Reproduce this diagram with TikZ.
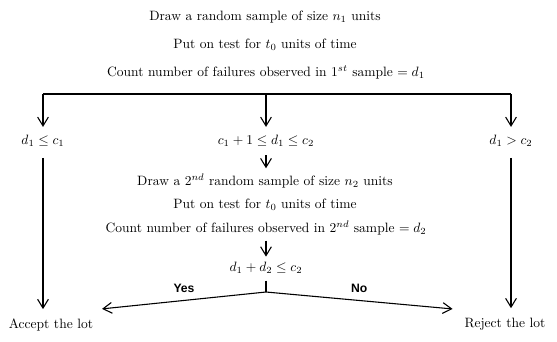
\documentclass[tikz,border=0pt]{standalone}
\usepackage{amsmath,amssymb}
\usepackage{fontspec}
\newfontfamily\lblfont{Liberation Sans}
\usepackage{tikz}
\usetikzlibrary{arrows.meta,positioning,calc}
\tikzset{
  txt/.style={inner sep=2pt, font=\normalsize},
  flow/.style={-{Straight Barb[length=2.3mm,width=2.8mm]}, line width=0.8pt},
  link/.style={line width=0.8pt},
  lbl/.style={font=\lblfont\bfseries\small},
}

\begin{document}
\begin{tikzpicture}[x=0.026cm,y=-0.026cm]
\useasboundingbox (0,0) rectangle (557,341);
% first sample
\node[txt] (draw1) at (265,17) {Draw a random sample of size $n_1$ units};
\node[txt] (test1) at (265,45) {Put on test for $t_0$ units of time};
\node[txt] (count1) at (266,72) {Count number of failures observed in $1^{st}$ sample $= d_1$};
% decisions on d1
\coordinate (bar) at (266,94);
\node[txt] (lowc) at (43,141) {$d_1 \le c_1$};
\node[txt] (midc) at (266,141) {$c_1 + 1 \le d_1 \le c_2$};
\node[txt] (highc) at (511,141) {$d_1 > c_2$};
% second sample
\node[txt] (draw2) at (265,181) {Draw a $2^{nd}$ random sample of size $n_2$ units};
\node[txt] (test2) at (265,205) {Put on test for $t_0$ units of time};
\node[txt] (count2) at (266,228) {Count number of failures observed in $2^{nd}$ sample $= d_2$};
\node[txt] (sumc) at (266,268) {$d_1 + d_2 \le c_2$};
\coordinate (fork) at (266,292);
% outcomes
\node[txt] (accept) at (51,325) {Accept the lot};
\node[txt] (reject) at (505,324) {Reject the lot};
% connectors
\draw[link] (lowc.north |- bar) -- (highc.north |- bar);
\draw[flow, shorten >=4pt] (lowc.north |- bar) -- (lowc);
\draw[flow, shorten >=4pt] (bar) -- (midc);
\draw[flow, shorten >=4pt] (highc.north |- bar) -- (highc);
\draw[flow, shorten <=4pt, shorten >=2pt] (midc) -- (midc |- draw2.north);
\draw[flow, shorten <=2pt, shorten >=2pt] (count2.south -| sumc) -- (sumc);
\draw[flow, shorten <=6pt, shorten >=5pt] (lowc.south) -- (lowc.south |- accept.north);
\draw[flow, shorten <=6pt, shorten >=5pt] (highc.south) -- (highc.south |- reject.north);
\draw[link, shorten <=3pt] (sumc) -- (fork);
\draw[flow] (fork) -- node[lbl, above=2pt, pos=0.5] {Yes} ($(accept.north east)+(6,-7)$);
\draw[flow] (fork) -- node[lbl, above=2pt, pos=0.5] {No} ($(reject.north west)+(-9,-6)$);
\end{tikzpicture}
\end{document}
